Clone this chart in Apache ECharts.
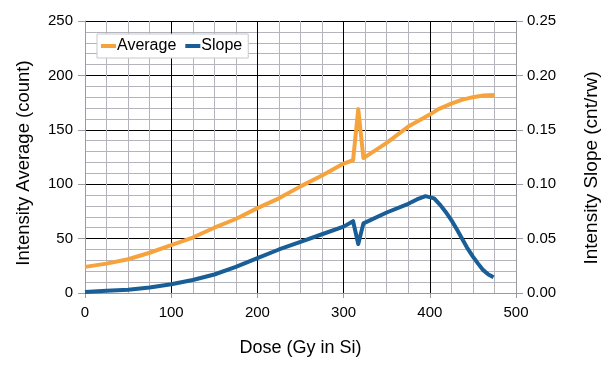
<!DOCTYPE html>
<html><head><meta charset="utf-8">
<script src="https://cdn.jsdelivr.net/npm/echarts@6/dist/echarts.min.js"></script>
<style>html,body{margin:0;padding:0;background:#fff}#c{width:612px;height:369px}</style>
</head><body><div id="c"></div>
<script>
const doseAvg = [0,25,50,75,100,125,150,175,200,225,250,275,300,311,317,323,350,375,400,410,425,437,450,462,475];
const average = [24,27,31,37,44,51,60,68,78,87,98,108,119,122,169,124,138,153,164,169,174,177.5,180,181.5,182];
const doseSlope = [0,25,50,75,100,125,150,175,200,225,250,275,300,311,317,323,350,375,385,395,405,412,418,425,431,437,443,450,456,462,468,474];
const slope = [0.001,0.002,0.003,0.005,0.008,0.012,0.017,0.024,0.032,0.040,0.047,0.054,0.061,0.066,0.045,0.064,0.074,0.082,0.086,0.089,0.087,0.081,0.075,0.067,0.059,0.0505,0.042,0.0334,0.027,0.021,0.017,0.0144];
const seriesNames = ['Average','Slope'];

const FONT = 'Liberation Sans, Arial, Helvetica, sans-serif';
const chart = echarts.init(document.getElementById('c'), null, {renderer:'canvas'});
const axisGrey = '#9a9aa2';
chart.setOption({
  animation:false,
  textStyle:{fontFamily:FONT,color:'#000'},
  grid:{left:85,right:96,top:21,bottom:76},
  legend:{
    left:97, top:34, padding:[4,6,4,4], itemGap:9,
    backgroundColor:'#fff', borderColor:'#c8c8cc', borderWidth:1,
    icon:'rect', itemWidth:15, itemHeight:4,
    textStyle:{fontFamily:FONT,fontSize:16,color:'#000',padding:[0,0,0,-4]},
    data:seriesNames
  },
  xAxis:{
    type:'value', min:0, max:500, interval:100,
    name:'Dose (Gy in Si)', nameLocation:'middle', nameGap:46,
    nameTextStyle:{fontFamily:FONT,fontSize:18,color:'#000'},
    axisLine:{lineStyle:{color:axisGrey,width:1}},
    axisTick:{show:true,length:5,lineStyle:{color:axisGrey}},
    axisLabel:{fontFamily:FONT,fontSize:15,color:'#000',margin:12},
    splitLine:{show:true,lineStyle:{color:'#000',width:1}},
    minorTick:{show:false,splitNumber:4},
    minorSplitLine:{show:true,lineStyle:{color:'#b4b4bc',width:1}}
  },
  yAxis:[{
    type:'value', min:0, max:250, interval:50,
    name:'Intensity Average (count)', nameLocation:'middle', nameGap:52, nameRotate:90,
    nameTextStyle:{fontFamily:FONT,fontSize:18.5,color:'#000',padding:[0,12,0,0]},
    axisLine:{show:true,lineStyle:{color:axisGrey,width:1}},
    axisTick:{show:true,length:7,lineStyle:{color:axisGrey}},
    axisLabel:{fontFamily:FONT,fontSize:15,color:'#000',margin:12},
    splitLine:{show:true,lineStyle:{color:'#000',width:1}},
    minorTick:{show:false,splitNumber:5},
    minorSplitLine:{show:true,lineStyle:{color:'#b4b4bc',width:1}}
  },{
    type:'value', min:0, max:0.25, interval:0.05, position:'right',
    name:'Intensity Slope (cnt/rw)', nameLocation:'middle', nameGap:66, nameRotate:90,
    nameTextStyle:{fontFamily:FONT,fontSize:19,color:'#000',padding:[0,22,0,0]},
    axisLine:{show:true,lineStyle:{color:axisGrey,width:1}},
    axisTick:{show:true,length:7,lineStyle:{color:axisGrey}},
    axisLabel:{fontFamily:FONT,fontSize:15,color:'#000',margin:11,formatter:v=>v.toFixed(2)},
    splitLine:{show:false}
  }],
  series:[{
    name:seriesNames[0], type:'line', yAxisIndex:0, showSymbol:false, symbol:'none',
    lineStyle:{color:'#F7A33D',width:4,join:'round'}, itemStyle:{color:'#F7A33D'},
    data:doseAvg.map((d,i)=>[d,average[i]])
  },{
    name:seriesNames[1], type:'line', yAxisIndex:1, showSymbol:false, symbol:'none',
    lineStyle:{color:'#195E97',width:4,join:'round'}, itemStyle:{color:'#195E97'},
    data:doseSlope.map((d,i)=>[d,slope[i]])
  }]
});
</script></body></html>
